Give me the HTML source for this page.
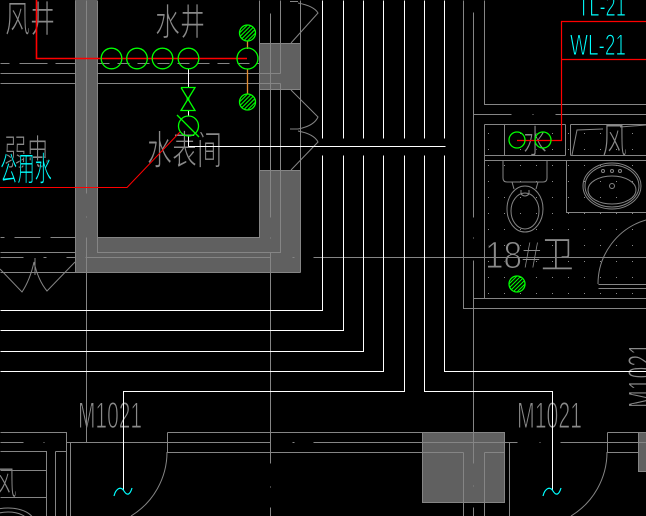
<!DOCTYPE html>
<html><head><meta charset="utf-8"><style>
html,body{margin:0;padding:0;background:#000;width:646px;height:516px;overflow:hidden}
svg{display:block}
.t{font-family:"Liberation Sans","Noto Sans CJK SC",sans-serif;fill:#8a8a8a;stroke:#000;stroke-width:1.1px}
.c{font-family:"Liberation Sans","Noto Sans CJK SC",sans-serif;fill:#00ffff;stroke:#000;stroke-width:1px}
</style></head><body>
<svg width="646" height="516" viewBox="0 0 646 516" xmlns="http://www.w3.org/2000/svg">
<defs>
<clipPath id="cc"><circle cx="0" cy="0" r="7.5"/></clipPath>
<g id="hc"><g clip-path="url(#cc)" stroke="#00ff00" stroke-width="1"><path d="M-20,12L4,-12 M-16,12L8,-12 M-12,12L12,-12 M-8,12L16,-12 M-4,12L20,-12"/></g><circle r="8" fill="none" stroke="#00ff00" stroke-width="1.3"/></g>
<pattern id="dots" patternUnits="userSpaceOnUse" x="488" y="133" width="16" height="16"><rect x="0" y="0" width="1" height="1" fill="#8a8a8a"/></pattern>
</defs>
<rect width="646" height="516" fill="#000"/>

<!-- gray fills -->
<g fill="#606060">
<rect x="75" y="0" width="22" height="272"/>
<rect x="75" y="237" width="225" height="35"/>
<rect x="259" y="43" width="41" height="46"/>
<rect x="259" y="170" width="41" height="102"/>
<rect x="422" y="432" width="82" height="70"/>
<rect x="638" y="432" width="8" height="39"/>
</g>

<!-- dots -->
<rect x="486" y="126" width="160" height="170" fill="url(#dots)"/>

<!-- texts (drawn before lines so lines stay intact) -->
<text class="t" x="5" y="32" font-size="37" textLength="50" lengthAdjust="spacingAndGlyphs">风井</text>
<text class="t" x="155" y="35" font-size="37" textLength="50" lengthAdjust="spacingAndGlyphs">水井</text>
<text class="t" x="147" y="164" font-size="40" textLength="75" lengthAdjust="spacingAndGlyphs">水表间</text>
<text class="t" x="4" y="165" font-size="36" textLength="45" lengthAdjust="spacingAndGlyphs">弱电</text>
<text class="c" x="0" y="181" font-size="34" textLength="52" lengthAdjust="spacingAndGlyphs">公用水</text>
<text class="t" x="485" y="268" font-size="38" textLength="89" lengthAdjust="spacingAndGlyphs">18#卫</text>
<text class="t" x="523" y="153" font-size="33" textLength="24" lengthAdjust="spacingAndGlyphs">水</text>
<text class="t" x="602" y="153" font-size="36" textLength="25" lengthAdjust="spacingAndGlyphs">风</text>
<text class="t" x="-8" y="495" font-size="34" textLength="25" lengthAdjust="spacingAndGlyphs">风</text>
<text class="t" x="78" y="428" font-size="37" textLength="64" lengthAdjust="spacingAndGlyphs">M1021</text>
<text class="t" x="517" y="428" font-size="37" textLength="65" lengthAdjust="spacingAndGlyphs">M1021</text>
<text class="t" transform="translate(654,408) rotate(-90)" x="0" y="0" font-size="37" textLength="65" lengthAdjust="spacingAndGlyphs">M1021</text>
<text class="c" x="578" y="16" font-size="30" textLength="48" lengthAdjust="spacingAndGlyphs">TL-21</text>
<text class="c" x="570" y="55" font-size="30" textLength="56" lengthAdjust="spacingAndGlyphs">WL-21</text>

<!-- gray lines -->
<g transform="translate(0.5,0.5)" stroke="#858585" stroke-width="1" fill="none" shape-rendering="crispEdges">
<path d="M75,0V272 M97,0V252H280V83 M280,0V73 M259,0V237H97 M300,0V272 M0,272H300 M259,43H300 M259,89H300 M259,170H300"/>
<path d="M86,0V193 M86,216V217 M86,237V442"/>
<path d="M270,13V217 M270,237V238 M270,252V463 M270,486V487 M270,507V516"/>
<path d="M0,73H75 M97,73H280 M0,83H75 M97,83H280"/>
<path d="M0,63H9 M19,63H47 M55,63H75"/>
<path d="M97,63H259" stroke-dasharray="12 8"/>
<path d="M0,237H4 M14,237H40 M50,237H75 M0,252H75"/>
<path d="M0,257H23 M43,257H46 M66,257H75 M85,257H270 M292,257H294 M313,257H646"/>
<path d="M463,0V308H646 M473,12V217 M473,237V238 M473,260V463 M473,485V486 M473,507V516"/>
<path d="M484,0V104H646 M473,114H511 M532,114H533 M555,114H646"/>
<path d="M484,124V298 M484,124H565 M570,124H646 M504,124V155 M565,124V155 M570,124V155 M484,155H565 M570,155H646 M484,160H646"/>
<path d="M473,298H646 M566,160V212H646 M598,284H646 M598,288H646"/>
<path d="M0,432H66V442 M66,442H270 M292,442H294 M313,442H517 M539,442H540 M560,442H646"/>
<path d="M167,432H422 M607,432H646 M167,432V452H463 M463,452V516 M484,452V516 M484,452H504 M509,442V516 M422,432H504V502H422Z"/>
<path d="M607,432V452H638 M638,432V471H646"/>
<path d="M66,442V516 M70,442V516 M55,451H66 M55,451V516 M0,451H46V516 M0,442H23 M43,442H44 M0,497H46 M0,470H46"/>
</g>

<g stroke="#858585" stroke-width="1" fill="none">
<path d="M290,1.5H298 M298,3 Q314,6 318,13 L291,43"/>
<path d="M291,90 L318,117 Q314,126 298,129 H290 M298,131 Q314,134 318,142 L291,170"/>
<path d="M0,269 L22,292 Q30,280 34,262 Q38,280 47,291 L75,262 M35,258V275"/>
<path d="M598,284 A66.7,66.7 0 0 1 646,220"/>
<path d="M167,452 A75,75 0 0 1 131,516"/>
<path d="M607,452 A75,75 0 0 1 571,516"/>
<path d="M503,160 V178 Q503,182 507,182 H543 Q547,182 547,178 V160"/>
<path d="M512,182 L514,189 M538,182 L536,189 M521,190 V194 Q525,198 529,194 V190"/>
<ellipse cx="525" cy="209" rx="18" ry="23"/>
<ellipse cx="525" cy="211" rx="14" ry="18"/>
<ellipse cx="612" cy="186" rx="29" ry="23"/>
<ellipse cx="612" cy="186" rx="27" ry="21"/>
<ellipse cx="612" cy="190" rx="24" ry="14"/>
<circle cx="612" cy="186" r="2.5"/>
<circle cx="603" cy="171" r="1.5"/><circle cx="612" cy="171" r="1.5"/><circle cx="620" cy="171" r="1.5"/>
<path d="M572,155 L577,130 L603,129 M620,127 L646,125"/>
<ellipse cx="8" cy="522" rx="26" ry="14"/>
<ellipse cx="8" cy="522" rx="20" ry="10"/>
</g>

<!-- white lines -->
<g transform="translate(0.5,0.5)" stroke="#ffffff" stroke-width="1.2" fill="none" shape-rendering="crispEdges">
<path d="M322,0V138 M322,155V310H0"/>
<path d="M343,0V138 M343,155V330H0"/>
<path d="M363,0V138 M363,155V351H0"/>
<path d="M383,0V138 M383,155V371H0"/>
<path d="M404,0V138 M404,155V391H123V490"/>
<path d="M424,0V138 M424,155V391H552V490"/>
<path d="M444,0V138 M444,155V371H646"/>
<path d="M188,146H445 M188,68V87 M188,110V116 M188,136V146"/>
</g>

<!-- red -->
<g stroke="#ff0000" fill="none">
<path d="M36.5,0V58.5H247" stroke-width="1.6"/>
<path d="M0,187.5H127L180,132" stroke-width="1"/>
<path d="M561.5,21V140.5H517 M561,21.5H646 M561,59.5H646" stroke-width="1.2"/>
</g>

<path d="M247.5,41V49 M247.5,69V94" stroke="#e08a30" stroke-width="1.3"/>

<!-- green -->
<g stroke="#00ff00" stroke-width="1.3" fill="none">
<circle cx="111.5" cy="58.5" r="10.3"/>
<circle cx="137" cy="58.5" r="10.3"/>
<circle cx="162.5" cy="58.5" r="10.3"/>
<circle cx="188.5" cy="58.5" r="10.3"/>
<circle cx="247.5" cy="58.5" r="10.5"/>
<path d="M181,87.5H195 L181,110.5H195 L181,87.5"/>
<circle cx="188.5" cy="126" r="10"/>
<path d="M177,115L199,137"/>
<circle cx="517" cy="140" r="8"/>
<circle cx="543" cy="140" r="8"/>
</g>
<circle cx="188" cy="99" r="1.5" fill="#00ff00"/>
<use href="#hc" x="247.5" y="33"/>
<use href="#hc" x="247.5" y="102"/>
<use href="#hc" x="517" y="284"/>

<g stroke="#00ffff" stroke-width="1.2" fill="none">
<path d="M114,496 C116,488 121,486 124,491 C127,496 130,495 132,488"/>
<path d="M543,496 C545,488 550,486 553,491 C556,496 559,495 561,488"/>
</g>
</svg>
</body></html>
